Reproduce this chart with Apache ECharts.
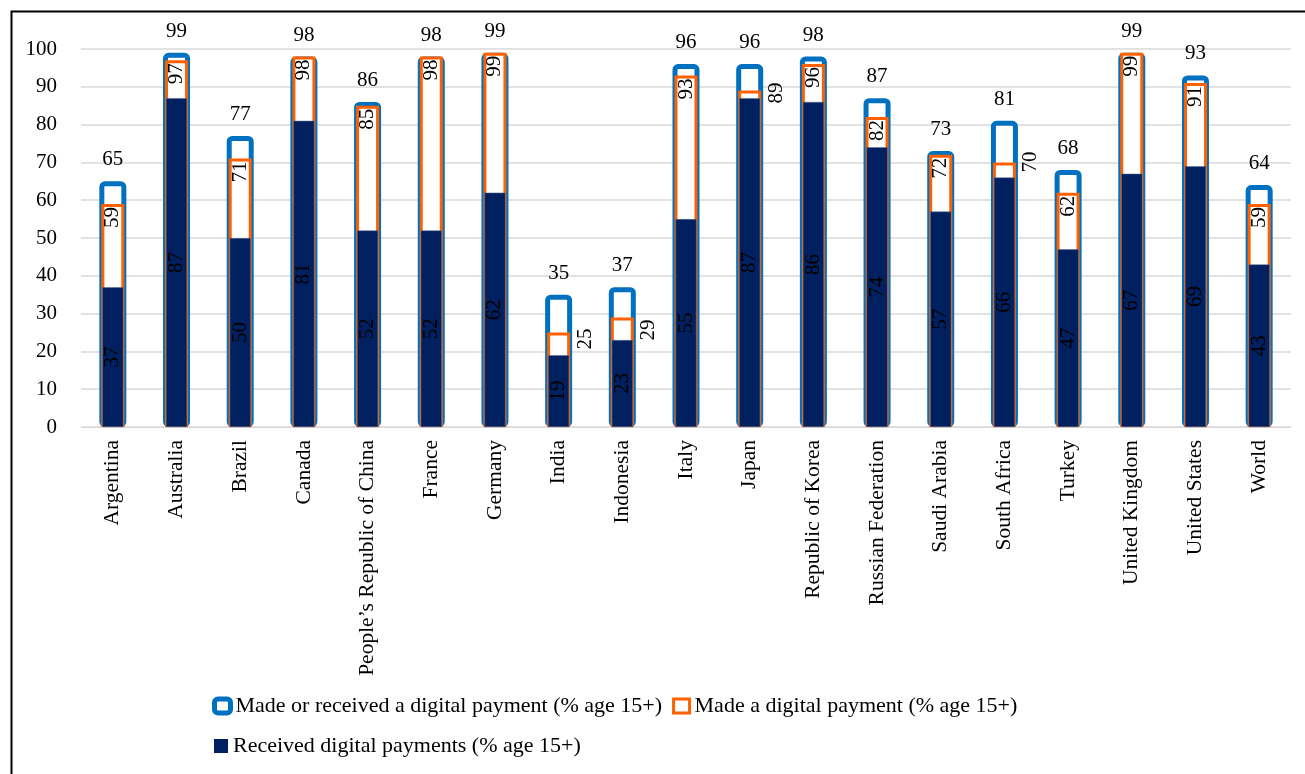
<!DOCTYPE html>
<html>
<head>
<meta charset="utf-8">
<script src="https://cdn.jsdelivr.net/npm/echarts@6/dist/echarts.min.js"></script>
<style>
html,body{margin:0;padding:0;background:#fff;}
#chart{width:1305px;height:774px;}
</style>
</head>
<body>
<div id="chart"></div>
<script>
const categories = ["Argentina","Australia","Brazil","Canada","People\u2019s Republic of China","France","Germany","India","Indonesia","Italy","Japan","Republic of Korea","Russian Federation","Saudi Arabia","South Africa","Turkey","United Kingdom","United States","World"];
const madeOrReceived = [65,99,77,98,86,98,99,35,37,96,96,98,87,73,81,68,99,93,64];
const madePayment = [59,97,71,98,85,98,99,25,29,93,89,96,82,72,70,62,99,91,59];
const receivedPayment = [37,87,50,81,52,52,62,19,23,55,87,86,74,57,66,47,67,69,43];
const seriesNames = ["Made or received a digital payment (% age 15+)","Made a digital payment (% age 15+)","Received digital payments (% age 15+)"];
const yTicks = {min:0,max:100,interval:10};

// label style overrides for labels that sit outside the bar (index -> vertical offset)
const outsideLabelOffsets = {7:-4, 8:2, 10:-8, 14:-11};

const FONT = "'Liberation Serif', 'Times New Roman', serif";
const BLUE = '#0070C0', ORANGE = '#FF6100', NAVY = '#002060';

const chart = echarts.init(document.getElementById('chart'), null, {renderer:'canvas'});

const orangeData = madePayment.map((v,i) => {
  if (outsideLabelOffsets[i] !== undefined) {
    return {value:v, label:{position:[38, outsideLabelOffsets[i]]}};
  }
  return v;
});

function hiddenAxis() {
  return {type:'category', data:categories, show:false, axisLine:{show:false}, axisTick:{show:false}, axisLabel:{show:false}};
}

const option = {
  backgroundColor:'#fff',
  animation:false,
  graphic:[{type:'rect', left:9, top:9, shape:{width:1400, height:900}, style:{fill:'none', stroke:'#000', lineWidth:2}, silent:true, z:-10}],
  grid:{left:81, right:14, top:49, bottom:347, containLabel:false},
  legend:[
    {left:212, top:695, padding:0, itemWidth:16, itemHeight:14, itemGap:10, textStyle:{fontFamily:FONT, fontSize:22, color:'#000'},
     data:[{name:seriesNames[0], icon:'roundRect', itemStyle:{color:'#fff', borderColor:BLUE, borderWidth:5}},
           {name:seriesNames[1], icon:'rect', itemStyle:{color:'#fff', borderColor:ORANGE, borderWidth:3}}]},
    {left:214, top:735, padding:0, itemWidth:14, itemHeight:14, textStyle:{fontFamily:FONT, fontSize:22, color:'#000'},
     data:[{name:seriesNames[2], icon:'rect', itemStyle:{color:NAVY, borderWidth:0}}]}
  ],
  xAxis:[
    {type:'category', data:categories,
     axisLine:{show:true, lineStyle:{color:'#d9d9d9', width:1}},
     axisTick:{show:false},
     axisLabel:{rotate:90, interval:0, margin:13, fontFamily:FONT, fontSize:21.5, color:'#000'}},
    hiddenAxis(), hiddenAxis()
  ],
  yAxis:{type:'value', min:yTicks.min, max:yTicks.max, interval:yTicks.interval,
    axisLine:{show:false}, axisTick:{show:false},
    splitLine:{lineStyle:{color:'#d9d9d9', width:1.5}},
    axisLabel:{margin:24, fontFamily:FONT, fontSize:21, color:'#000'}},
  series:[
    {name:seriesNames[0], type:'bar', xAxisIndex:0, data:madeOrReceived, barWidth:27, z:2,
     itemStyle:{color:'#fff', borderColor:BLUE, borderWidth:5, borderRadius:3},
     label:{show:true, position:'top', distance:11, fontFamily:FONT, fontSize:21, color:'#000'}},
    {name:seriesNames[1], type:'bar', xAxisIndex:1, data:orangeData, barWidth:23, z:3,
     itemStyle:{color:'#fff', borderColor:ORANGE, borderWidth:3},
     label:{show:true, position:'insideTop', rotate:90, align:'right', verticalAlign:'middle', distance:3, fontFamily:FONT, fontSize:21, color:'#000'}},
    {name:seriesNames[2], type:'bar', xAxisIndex:2, data:receivedPayment, barWidth:21, z:4,
     itemStyle:{color:NAVY, borderColor:'#5a6a8a', borderWidth:0.5},
     label:{show:true, position:'inside', rotate:90, fontFamily:FONT, fontSize:21, color:'#000'}}
  ]
};
chart.setOption(option);
</script>
</body>
</html>
